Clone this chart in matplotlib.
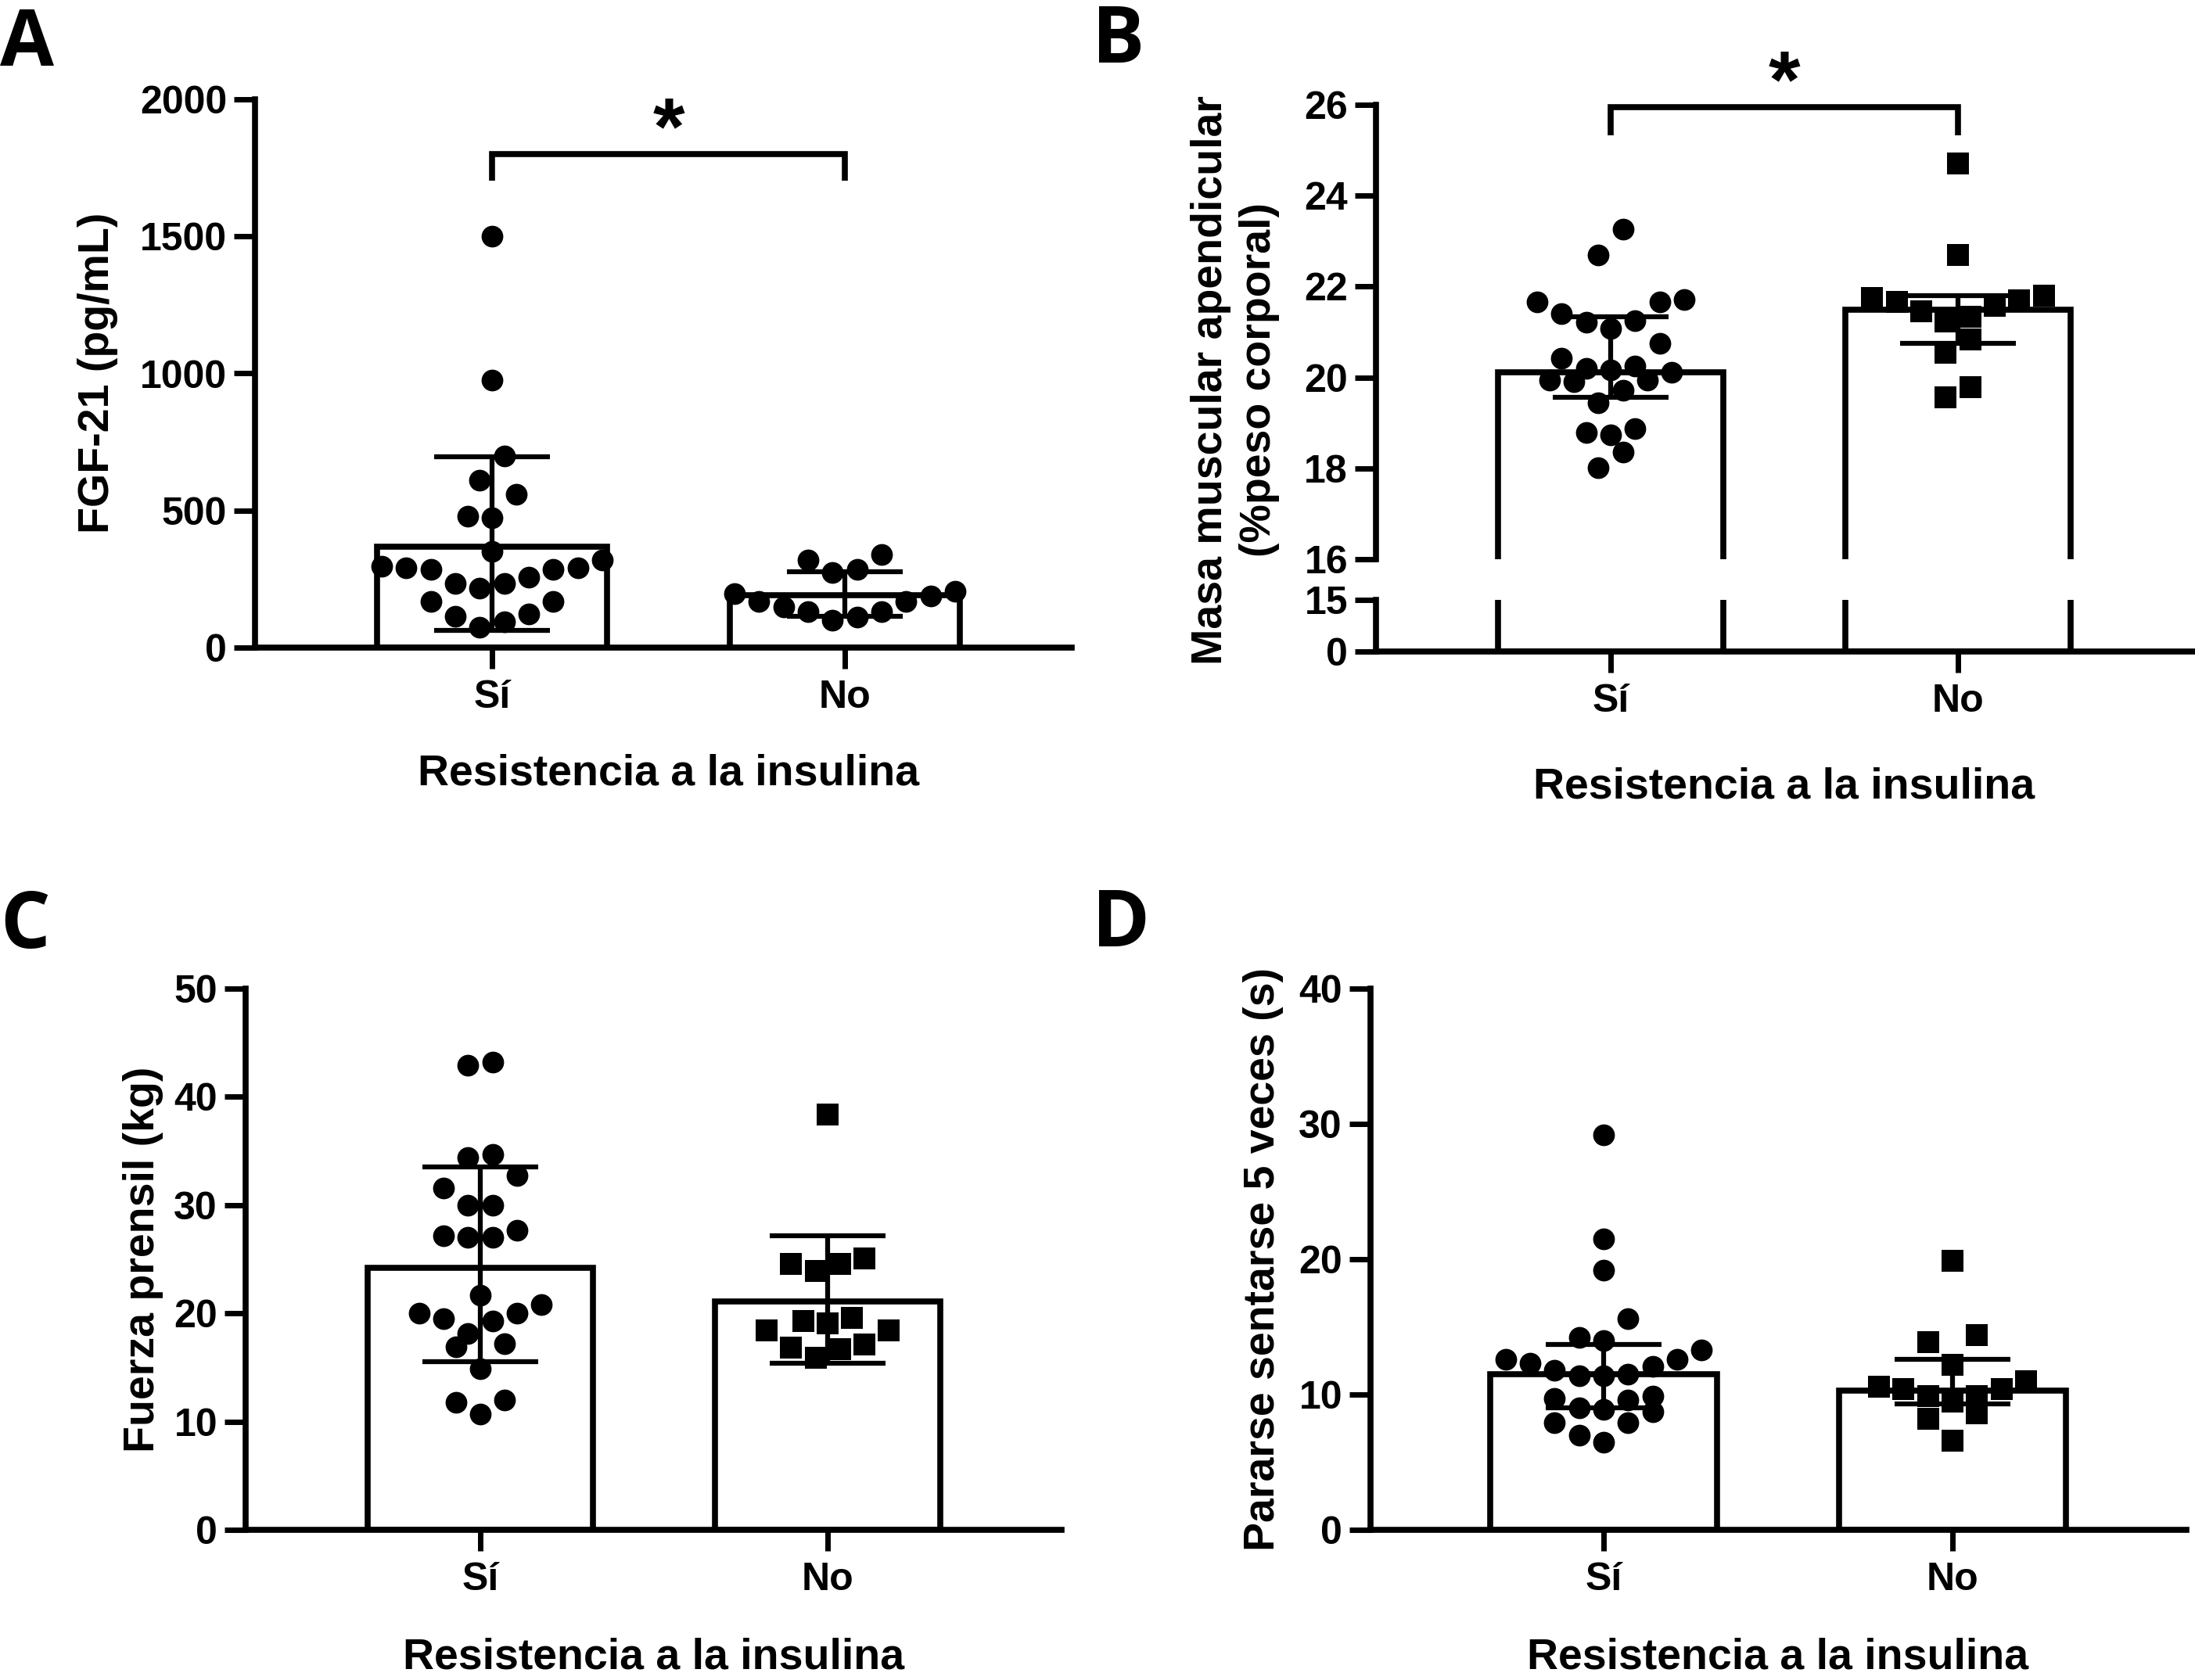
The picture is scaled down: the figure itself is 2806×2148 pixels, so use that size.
import numpy as np
import matplotlib.pyplot as plt

W, H = 2806, 2148

groups = ["Sí", "No"]
xlabel_text = "Resistencia a la insulina"

# Panel A: FGF-21 (pg/mL)
fgf_si = [1500, 975, 700, 610, 560, 475, 480, 350, 320, 292, 286, 258, 235,
          296, 286, 235, 292, 216, 168, 124, 115, 168, 95, 73]
fgf_no = [340, 320, 286, 273, 149, 130, 130, 168, 206, 197, 187, 111, 168, 101]
fgf_bar = [368, 191]
fgf_lo = [63, 115]
fgf_hi = [697, 277]

# Panel B: masa muscular apendicular (% peso corporal)
mma_si = [23.26, 22.69, 21.66, 21.71, 21.66, 21.40, 21.21, 21.25, 21.08, 20.75,
          20.43, 20.25, 20.17, 19.94, 19.91, 20.11, 19.94, 20.20, 19.71, 19.45,
          18.87, 18.78, 18.74, 18.36, 18.01]
mma_no = [24.71, 22.70, 21.80, 21.34, 21.69, 21.23, 21.66, 21.75, 21.57, 21.46,
          20.83, 20.54, 19.79, 19.56]
mma_bar = [20.11, 21.49]
mma_lo = [19.56, 20.75]
mma_hi = [21.34, 21.80]

# Panel C: fuerza prensil (kg)
fp_si = [43.2, 42.9, 34.7, 34.4, 32.7, 31.6, 30.0, 30.0, 27.7, 27.2, 27.0, 27.0,
         21.7, 20.8, 20.0, 19.5, 20.0, 19.3, 18.1, 16.9, 17.2, 14.9, 12.0, 11.8, 10.7]
fp_no = [38.4, 24.6, 23.9, 24.6, 25.1, 19.6, 19.3, 19.1, 18.4, 18.4, 17.1, 16.8,
         16.7, 15.9]
fp_bar = [24.2, 21.1]
fp_lo = [15.5, 15.4]
fp_hi = [33.5, 27.2]

# Panel D: pararse sentarse 5 veces (s)
ps_si = [29.2, 21.5, 19.2, 15.6, 14.0, 14.2, 13.3, 12.6, 12.6, 12.3, 11.8, 12.1,
         11.4, 11.4, 11.5, 9.7, 9.6, 9.9, 9.0, 8.7, 7.9, 7.9, 7.0, 6.5, 8.9]
ps_no = [19.9, 14.4, 13.9, 12.2, 11.0, 10.6, 10.4, 9.9, 9.5, 10.4, 9.9, 8.6,
         8.2, 6.6]
ps_bar = [11.5, 10.3]
ps_lo = [9.0, 9.3]
ps_hi = [13.7, 12.6]

plt.rcParams['font.family'] = ['Liberation Sans', 'DejaVu Sans']
plt.rcParams['font.weight'] = 'bold'
LW = 5.5

fig = plt.figure(figsize=(W / 100, H / 100), dpi=100)


def add_ax(left, right, top, bottom):
    return fig.add_axes([left / W, 1 - bottom / H, (right - left) / W, (bottom - top) / H])


def ftext(xp, yp, s, **kw):
    return fig.text(xp / W, 1 - yp / H, s, **kw)


def style(ax, xlim, ylim, yticks, xaxis=True):
    ax.set_xlim(*xlim)
    ax.set_ylim(*ylim)
    ax.set_yticks(yticks)
    for s in ['top', 'right']:
        ax.spines[s].set_visible(False)
    for s in ['left', 'bottom']:
        ax.spines[s].set_linewidth(LW)
    ax.tick_params(axis='both', length=19.5, width=5, labelsize=36)
    ax.tick_params(axis='y', pad=6.5)
    ax.tick_params(axis='x', pad=10)
    if xaxis:
        ax.set_xticks([0, 1])
        ax.set_xticklabels(groups)
    else:
        ax.spines['bottom'].set_visible(False)
        ax.set_xticks([])
    ax.patch.set_visible(False)


def swarm(vals, ax, d=29):
    # column scatter: points close in value share a row, spread sideways
    bb = ax.get_position()
    x0, x1 = ax.get_xlim()
    y0, y1 = ax.get_ylim()
    sx = bb.width * W / (x1 - x0)
    sy = bb.height * H / (y1 - y0)
    vals = np.asarray(vals, float)
    order = np.argsort(vals)
    offs = np.zeros(len(vals))
    rows, cur = [], [order[0]]
    for i in order[1:]:
        if (vals[i] - vals[cur[0]]) * sy < 1.35 * d:
            cur.append(i)
        else:
            rows.append(cur)
            cur = [i]
    rows.append(cur)
    for row in rows:
        n = len(row)
        # alternate sides so neighbours in value are not side by side
        slots = sorted(range(n), key=lambda j: abs(j - (n - 1) / 2))
        for j, i in zip(slots, row):
            offs[i] = (j - (n - 1) / 2) * d * 1.08 / sx
    return offs


def bars(ax, bar):
    ax.bar([0, 1], bar, width=0.65, color='white', edgecolor='black',
           linewidth=LW, zorder=1)


def errs(ax, bar, lo, hi):
    bar = np.array(bar)
    ax.errorbar([0, 1], bar, yerr=[bar - np.array(lo), np.array(hi) - bar],
                fmt='none', ecolor='black', elinewidth=4.5, capsize=53,
                capthick=4.5, zorder=2)


def points(ax, vals_list, markers):
    for i, vals in enumerate(vals_list):
        off = swarm(vals, ax)
        ax.plot(i + off, vals, linestyle='none', marker=markers[i], ms=20,
                color='black', mew=0, zorder=3, clip_on=False)


def bracket(ax, y_top, y_end):
    ax.plot([0, 0, 1, 1], [y_end, y_top, y_top, y_end], color='black', lw=LW,
            clip_on=False, solid_joinstyle='miter', solid_capstyle='butt')
    ax.text(0.5, y_top, '*', ha='center', va='baseline', fontsize=75)


# ---- A
axA = add_ax(326, 1370, 127, 828)
style(axA, (-0.672, 1.643), (0, 2000), [0, 500, 1000, 1500, 2000])
bars(axA, fgf_bar)
errs(axA, fgf_bar, fgf_lo, fgf_hi)
points(axA, [fgf_si, fgf_no], ['o', 'o'])
bracket(axA, 1800, 1703)

# ---- B (broken axis)
axB = add_ax(1759, 2804, 134, 715)
style(axB, (-0.676, 1.678), (16, 26), [16, 18, 20, 22, 24, 26], xaxis=False)
axB2 = add_ax(1759, 2804, 767, 833)
style(axB2, (-0.676, 1.678), (0, 15), [0, 15])
for ax in (axB, axB2):
    bars(ax, mma_bar)
errs(axB, mma_bar, mma_lo, mma_hi)
points(axB, [mma_si, mma_no], ['o', 's'])
bracket(axB, 25.95, 25.33)

# ---- C
axC = add_ax(314, 1357, 1264, 1956)
style(axC, (-0.676, 1.673), (0, 50), [0, 10, 20, 30, 40, 50])
bars(axC, fp_bar)
errs(axC, fp_bar, fp_lo, fp_hi)
points(axC, [fp_si, fp_no], ['o', 's'])

# ---- D
axD = add_ax(1752, 2795, 1264, 1956)
style(axD, (-0.668, 1.670), (0, 40), [0, 10, 20, 30, 40])
bars(axD, ps_bar)
errs(axD, ps_bar, ps_lo, ps_hi)
points(axD, [ps_si, ps_no], ['o', 's'])

# axis titles
lab = dict(fontsize=40, fontweight='bold')
ftext(855, 1003, xlabel_text, ha='center', va='baseline', **lab)
ftext(2281, 1021, xlabel_text, ha='center', va='baseline', **lab)
ftext(836, 2134, xlabel_text, ha='center', va='baseline', **lab)
ftext(2273, 2134, xlabel_text, ha='center', va='baseline', **lab)

ftext(125, 477, "FGF-21 (pg/mL)", rotation=90, ha='center', va='center', **lab)
ftext(1579, 486, "Masa muscular apendicular\n(%peso corporal)", rotation=90,
      ha='center', va='center', multialignment='center', linespacing=1.25, **lab)
ftext(183, 1610, "Fuerza prensil (kg)", rotation=90, ha='center', va='center', **lab)
ftext(1615, 1610, "Pararse sentarse 5 veces (s)", rotation=90, ha='center',
      va='center', **lab)

# panel letters
let = dict(fontsize=72, fontweight='bold', family='Open Sans', ha='left', va='baseline')
ftext(0, 84, "A", **let)
ftext(1396, 80, "B", **let)
ftext(0, 1212, "C", **let)
ftext(1396, 1210, "D", **let)

fig.savefig("out.png", dpi=100)
